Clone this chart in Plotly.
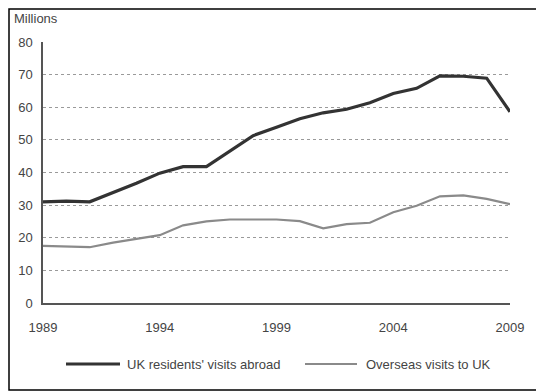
import plotly.graph_objects as go

years = list(range(1989, 2010))
uk_abroad = [31.0, 31.2, 31.0, 33.8, 36.7, 39.8, 41.8, 41.8, 46.5, 51.3, 53.9, 56.5, 58.3, 59.4, 61.4, 64.2, 65.8, 69.6, 69.5, 68.9, 58.6]
overseas = [17.5, 17.4, 17.1, 18.5, 19.6, 20.8, 23.8, 25.0, 25.6, 25.7, 25.6, 25.1, 22.9, 24.2, 24.6, 27.8, 29.8, 32.7, 33.0, 31.9, 30.3]
x_ticks = [1989, 1994, 1999, 2004, 2009]
y_ticks = [0, 10, 20, 30, 40, 50, 60, 70, 80]
names = ["UK residents' visits abroad", "Overseas visits to UK"]

FONT = "Liberation Sans, Arial, sans-serif"
OFF = 8  # page body margin
FW, FH = 544 - OFF, 391 - OFF
PL, PR, PT, PB = 43, 510, 42, 303  # plot area in window pixels
L, T = PL - OFF, PT - OFF
R, B = FW - (PR - OFF), FH - (PB - OFF)
W, H = PR - PL, PB - PT

def px(x):
    return (x - PL) / W

def py(y):
    return (PB - y) / H

fig = go.Figure()
fig.add_trace(go.Scatter(x=years, y=overseas, mode="lines", name=names[1],
                         line=dict(color="#8a8a8a", width=2.2), showlegend=False))
fig.add_trace(go.Scatter(x=years, y=uk_abroad, mode="lines", name=names[0],
                         line=dict(color="#333333", width=3.2), showlegend=False))

shapes = [
    dict(type="rect", xref="paper", yref="paper", x0=px(OFF + 1), x1=px(542), y0=py(390), y1=py(OFF + 1),
         line=dict(color="#000000", width=1.5)),
    dict(type="line", xref="paper", yref="paper", x0=px(66), x1=px(120), y0=py(364), y1=py(364),
         line=dict(color="#333333", width=3.2)),
    dict(type="line", xref="paper", yref="paper", x0=px(305), x1=px(357), y0=py(364), y1=py(364),
         line=dict(color="#8a8a8a", width=2.2)),
]
annotations = [
    dict(text="Millions", xref="paper", yref="paper", x=px(12), y=py(19), xanchor="left", yanchor="middle",
         showarrow=False, font=dict(family=FONT, size=13, color="#444444")),
    dict(text=names[0], xref="paper", yref="paper", x=px(125), y=py(364), xanchor="left", yanchor="middle",
         showarrow=False, font=dict(family=FONT, size=13, color="#444444")),
    dict(text=names[1], xref="paper", yref="paper", x=px(364), y=py(364), xanchor="left", yanchor="middle",
         showarrow=False, font=dict(family=FONT, size=13, color="#444444")),
]

fig.update_layout(
    width=FW, height=FH,
    margin=dict(l=L, r=R, t=T, b=B, autoexpand=False),
    paper_bgcolor="white", plot_bgcolor="white",
    shapes=shapes, annotations=annotations,
    font=dict(family=FONT, size=13, color="#444444"),
    xaxis=dict(range=[1989, 2009], tickvals=x_ticks, ticktext=[str(v) for v in x_ticks],
               showgrid=False, zeroline=False, showline=True, linecolor="#555555", linewidth=2,
               ticks="", ticklabelstandoff=11, tickfont=dict(family=FONT, size=13, color="#444444")),
    yaxis=dict(range=[0, 80], tickvals=y_ticks, showgrid=True, gridcolor="#9a9a9a", gridwidth=1,
               griddash="dot", zeroline=False, showline=True, linecolor="#555555", linewidth=1.5,
               ticks="", ticklabelstandoff=6, tickfont=dict(family=FONT, size=13, color="#444444")),
)
fig.write_html("out.html")
